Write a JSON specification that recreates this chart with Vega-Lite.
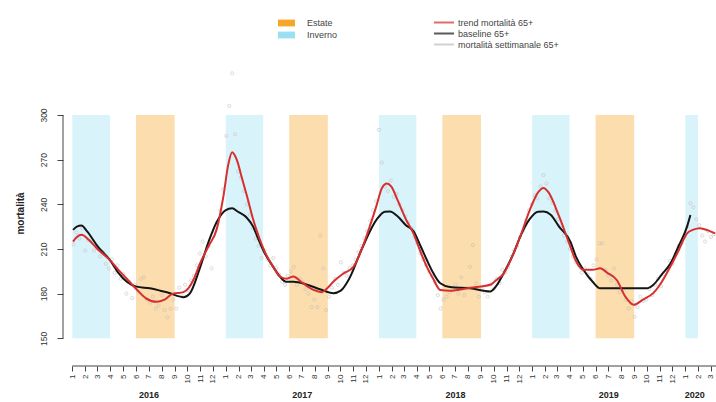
{
  "$schema": "https://vega.github.io/schema/vega-lite/v6.json",
  "width": 653,
  "height": 306,
  "autosize": "none",
  "padding": {"left": 63, "top": 60, "right": 0, "bottom": 36},
  "background": "white",
  "config": {"font": "Liberation Sans", "view": {"stroke": null}, "axis": {"grid": false}},
  "datasets": {
    "bande": [
      {"inizio": "2016-01-01", "fine": "2016-03-31", "stagione": "Inverno"},
      {"inizio": "2016-06-01", "fine": "2016-09-01", "stagione": "Estate"},
      {"inizio": "2017-01-01", "fine": "2017-03-31", "stagione": "Inverno"},
      {"inizio": "2017-06-01", "fine": "2017-09-01", "stagione": "Estate"},
      {"inizio": "2018-01-01", "fine": "2018-03-31", "stagione": "Inverno"},
      {"inizio": "2018-06-01", "fine": "2018-09-01", "stagione": "Estate"},
      {"inizio": "2019-01-01", "fine": "2019-03-31", "stagione": "Inverno"},
      {"inizio": "2019-06-01", "fine": "2019-09-01", "stagione": "Estate"},
      {"inizio": "2020-01-01", "fine": "2020-01-31", "stagione": "Inverno"}
    ],
    "trend": [
      {"d": "2016-01-03", "v": 215}, {"d": "2016-01-12", "v": 218}, {"d": "2016-01-23", "v": 219.5},
      {"d": "2016-02-10", "v": 216}, {"d": "2016-03-01", "v": 210}, {"d": "2016-03-31", "v": 202.5},
      {"d": "2016-04-20", "v": 196}, {"d": "2016-05-10", "v": 190}, {"d": "2016-06-02", "v": 183},
      {"d": "2016-06-24", "v": 177}, {"d": "2016-07-20", "v": 174.5}, {"d": "2016-08-08", "v": 176},
      {"d": "2016-08-28", "v": 180}, {"d": "2016-09-22", "v": 181}, {"d": "2016-10-05", "v": 184},
      {"d": "2016-10-17", "v": 190}, {"d": "2016-10-31", "v": 200}, {"d": "2016-11-21", "v": 212},
      {"d": "2016-12-10", "v": 223}, {"d": "2016-12-26", "v": 245}, {"d": "2017-01-07", "v": 267},
      {"d": "2017-01-16", "v": 275}, {"d": "2017-01-27", "v": 270}, {"d": "2017-02-09", "v": 257},
      {"d": "2017-02-20", "v": 246}, {"d": "2017-03-07", "v": 230}, {"d": "2017-03-16", "v": 222},
      {"d": "2017-04-04", "v": 208}, {"d": "2017-04-24", "v": 198}, {"d": "2017-05-10", "v": 191.5},
      {"d": "2017-05-25", "v": 190}, {"d": "2017-06-11", "v": 191.5}, {"d": "2017-06-29", "v": 188},
      {"d": "2017-07-29", "v": 182.5}, {"d": "2017-08-18", "v": 181}, {"d": "2017-08-30", "v": 183.5},
      {"d": "2017-09-14", "v": 188}, {"d": "2017-10-08", "v": 193.5}, {"d": "2017-11-01", "v": 198},
      {"d": "2017-11-21", "v": 210}, {"d": "2017-12-11", "v": 226}, {"d": "2017-12-27", "v": 240},
      {"d": "2018-01-08", "v": 251}, {"d": "2018-01-20", "v": 254}, {"d": "2018-01-30", "v": 252},
      {"d": "2018-02-14", "v": 243}, {"d": "2018-03-06", "v": 230}, {"d": "2018-03-24", "v": 220.5},
      {"d": "2018-04-10", "v": 208}, {"d": "2018-04-25", "v": 198}, {"d": "2018-05-10", "v": 190},
      {"d": "2018-05-27", "v": 182.5}, {"d": "2018-06-19", "v": 182}, {"d": "2018-08-06", "v": 184},
      {"d": "2018-09-23", "v": 186}, {"d": "2018-10-07", "v": 189}, {"d": "2018-10-25", "v": 193.5},
      {"d": "2018-11-16", "v": 206}, {"d": "2018-12-03", "v": 218}, {"d": "2018-12-26", "v": 236},
      {"d": "2019-01-15", "v": 248}, {"d": "2019-01-28", "v": 251}, {"d": "2019-02-09", "v": 248},
      {"d": "2019-03-06", "v": 232}, {"d": "2019-04-02", "v": 211.5}, {"d": "2019-04-15", "v": 202},
      {"d": "2019-05-03", "v": 196}, {"d": "2019-05-25", "v": 196}, {"d": "2019-06-12", "v": 197},
      {"d": "2019-06-29", "v": 194}, {"d": "2019-07-22", "v": 189}, {"d": "2019-08-11", "v": 178},
      {"d": "2019-08-31", "v": 172.5}, {"d": "2019-09-22", "v": 176}, {"d": "2019-10-17", "v": 180.5},
      {"d": "2019-11-06", "v": 188}, {"d": "2019-11-26", "v": 198}, {"d": "2019-12-16", "v": 209},
      {"d": "2020-01-05", "v": 220.5}, {"d": "2020-01-20", "v": 223}, {"d": "2020-02-05", "v": 224},
      {"d": "2020-02-24", "v": 222.5}, {"d": "2020-03-12", "v": 220.5}
    ],
    "baseline": [
      {"d": "2016-01-03", "v": 222.8}, {"d": "2016-01-12", "v": 225}, {"d": "2016-01-23", "v": 225.7},
      {"d": "2016-02-05", "v": 222}, {"d": "2016-03-01", "v": 212}, {"d": "2016-03-31", "v": 202.5},
      {"d": "2016-04-20", "v": 194}, {"d": "2016-05-10", "v": 188}, {"d": "2016-06-02", "v": 184.7},
      {"d": "2016-07-04", "v": 183.6}, {"d": "2016-07-29", "v": 182}, {"d": "2016-08-21", "v": 180.3},
      {"d": "2016-09-07", "v": 178.5}, {"d": "2016-09-22", "v": 177.6}, {"d": "2016-10-07", "v": 180},
      {"d": "2016-10-31", "v": 197}, {"d": "2016-11-21", "v": 215}, {"d": "2016-12-10", "v": 228},
      {"d": "2016-12-31", "v": 236}, {"d": "2017-01-16", "v": 237.3}, {"d": "2017-01-30", "v": 235},
      {"d": "2017-02-20", "v": 231}, {"d": "2017-03-07", "v": 225}, {"d": "2017-03-16", "v": 219},
      {"d": "2017-04-04", "v": 207}, {"d": "2017-04-24", "v": 198}, {"d": "2017-05-10", "v": 191.4},
      {"d": "2017-05-25", "v": 188}, {"d": "2017-06-11", "v": 188}, {"d": "2017-07-14", "v": 186},
      {"d": "2017-08-13", "v": 183}, {"d": "2017-09-14", "v": 180.3}, {"d": "2017-10-02", "v": 182},
      {"d": "2017-10-22", "v": 190}, {"d": "2017-11-21", "v": 210}, {"d": "2017-12-27", "v": 230},
      {"d": "2018-01-15", "v": 235}, {"d": "2018-01-27", "v": 235.1}, {"d": "2018-02-14", "v": 232},
      {"d": "2018-03-06", "v": 226}, {"d": "2018-03-24", "v": 222}, {"d": "2018-04-10", "v": 212},
      {"d": "2018-04-25", "v": 202.6}, {"d": "2018-05-10", "v": 194}, {"d": "2018-05-27", "v": 187},
      {"d": "2018-06-19", "v": 184.5}, {"d": "2018-08-06", "v": 183.6}, {"d": "2018-09-23", "v": 181.4},
      {"d": "2018-10-07", "v": 185}, {"d": "2018-10-25", "v": 193.7}, {"d": "2018-11-16", "v": 206},
      {"d": "2018-12-03", "v": 218}, {"d": "2018-12-26", "v": 230}, {"d": "2019-01-15", "v": 235},
      {"d": "2019-01-28", "v": 235.1}, {"d": "2019-02-14", "v": 233}, {"d": "2019-03-06", "v": 225},
      {"d": "2019-04-02", "v": 215}, {"d": "2019-04-15", "v": 205}, {"d": "2019-05-03", "v": 196},
      {"d": "2019-05-25", "v": 188}, {"d": "2019-06-12", "v": 183.6}, {"d": "2019-10-01", "v": 183.6},
      {"d": "2019-10-17", "v": 186}, {"d": "2019-11-06", "v": 193}, {"d": "2019-11-26", "v": 200},
      {"d": "2019-12-16", "v": 212}, {"d": "2020-01-05", "v": 225}, {"d": "2020-01-13", "v": 232.8}
    ],
    "obs": [
      {"d": "2016-01-04", "v": 213}, {"d": "2016-01-11", "v": 221}, {"d": "2016-01-18", "v": 217}, {"d": "2016-01-25", "v": 224},
      {"d": "2016-02-01", "v": 209}, {"d": "2016-02-08", "v": 216}, {"d": "2016-02-15", "v": 215}, {"d": "2016-02-22", "v": 209},
      {"d": "2016-02-29", "v": 212}, {"d": "2016-03-07", "v": 205}, {"d": "2016-03-14", "v": 208}, {"d": "2016-03-21", "v": 200},
      {"d": "2016-03-28", "v": 197}, {"d": "2016-04-04", "v": 203}, {"d": "2016-04-11", "v": 194}, {"d": "2016-04-18", "v": 199},
      {"d": "2016-04-25", "v": 190}, {"d": "2016-05-02", "v": 193}, {"d": "2016-05-09", "v": 180}, {"d": "2016-05-16", "v": 188},
      {"d": "2016-05-23", "v": 177}, {"d": "2016-05-30", "v": 186}, {"d": "2016-06-06", "v": 181}, {"d": "2016-06-13", "v": 190},
      {"d": "2016-06-20", "v": 191}, {"d": "2016-06-27", "v": 176}, {"d": "2016-07-04", "v": 174}, {"d": "2016-07-11", "v": 178},
      {"d": "2016-07-18", "v": 170}, {"d": "2016-07-25", "v": 172}, {"d": "2016-08-01", "v": 179}, {"d": "2016-08-08", "v": 169},
      {"d": "2016-08-15", "v": 164}, {"d": "2016-08-22", "v": 170}, {"d": "2016-08-29", "v": 176}, {"d": "2016-09-05", "v": 170},
      {"d": "2016-09-12", "v": 184}, {"d": "2016-09-19", "v": 178}, {"d": "2016-09-26", "v": 186}, {"d": "2016-10-03", "v": 182},
      {"d": "2016-10-10", "v": 189}, {"d": "2016-10-17", "v": 192}, {"d": "2016-10-24", "v": 199}, {"d": "2016-10-31", "v": 207},
      {"d": "2016-11-07", "v": 215}, {"d": "2016-11-14", "v": 205}, {"d": "2016-11-21", "v": 212}, {"d": "2016-11-28", "v": 197},
      {"d": "2016-12-05", "v": 222}, {"d": "2016-12-12", "v": 228}, {"d": "2016-12-19", "v": 236}, {"d": "2016-12-26", "v": 250},
      {"d": "2017-01-02", "v": 286}, {"d": "2017-01-09", "v": 306}, {"d": "2017-01-16", "v": 328}, {"d": "2017-01-23", "v": 287},
      {"d": "2017-01-30", "v": 262}, {"d": "2017-02-06", "v": 258}, {"d": "2017-02-13", "v": 249}, {"d": "2017-02-20", "v": 240},
      {"d": "2017-02-27", "v": 233}, {"d": "2017-03-06", "v": 224}, {"d": "2017-03-13", "v": 217}, {"d": "2017-03-20", "v": 212},
      {"d": "2017-03-27", "v": 204}, {"d": "2017-04-03", "v": 209}, {"d": "2017-04-10", "v": 203}, {"d": "2017-04-17", "v": 199},
      {"d": "2017-04-24", "v": 204}, {"d": "2017-05-01", "v": 197}, {"d": "2017-05-08", "v": 193}, {"d": "2017-05-15", "v": 188},
      {"d": "2017-05-22", "v": 186}, {"d": "2017-05-29", "v": 192}, {"d": "2017-06-05", "v": 195}, {"d": "2017-06-12", "v": 198},
      {"d": "2017-06-19", "v": 186}, {"d": "2017-06-26", "v": 190}, {"d": "2017-07-03", "v": 188}, {"d": "2017-07-10", "v": 183},
      {"d": "2017-07-17", "v": 180}, {"d": "2017-07-24", "v": 171}, {"d": "2017-07-31", "v": 176}, {"d": "2017-08-07", "v": 171},
      {"d": "2017-08-14", "v": 219}, {"d": "2017-08-21", "v": 197}, {"d": "2017-08-28", "v": 169}, {"d": "2017-09-04", "v": 178},
      {"d": "2017-09-11", "v": 184}, {"d": "2017-09-18", "v": 190}, {"d": "2017-09-25", "v": 186}, {"d": "2017-10-02", "v": 201},
      {"d": "2017-10-09", "v": 194}, {"d": "2017-10-16", "v": 192}, {"d": "2017-10-23", "v": 197}, {"d": "2017-10-30", "v": 199},
      {"d": "2017-11-06", "v": 203}, {"d": "2017-11-13", "v": 208}, {"d": "2017-11-20", "v": 212}, {"d": "2017-11-27", "v": 217},
      {"d": "2017-12-04", "v": 222}, {"d": "2017-12-11", "v": 229}, {"d": "2017-12-18", "v": 236}, {"d": "2017-12-25", "v": 242},
      {"d": "2018-01-01", "v": 290}, {"d": "2018-01-08", "v": 268}, {"d": "2018-01-15", "v": 252}, {"d": "2018-01-22", "v": 249},
      {"d": "2018-01-29", "v": 256}, {"d": "2018-02-05", "v": 245}, {"d": "2018-02-12", "v": 247}, {"d": "2018-02-19", "v": 240},
      {"d": "2018-02-26", "v": 236}, {"d": "2018-03-05", "v": 232}, {"d": "2018-03-12", "v": 228}, {"d": "2018-03-19", "v": 224},
      {"d": "2018-03-26", "v": 218}, {"d": "2018-04-02", "v": 214}, {"d": "2018-04-09", "v": 207}, {"d": "2018-04-16", "v": 203},
      {"d": "2018-04-23", "v": 199}, {"d": "2018-04-30", "v": 195}, {"d": "2018-05-07", "v": 192}, {"d": "2018-05-14", "v": 188},
      {"d": "2018-05-21", "v": 179}, {"d": "2018-05-28", "v": 170}, {"d": "2018-06-04", "v": 176}, {"d": "2018-06-11", "v": 178},
      {"d": "2018-06-18", "v": 181}, {"d": "2018-06-25", "v": 183}, {"d": "2018-07-02", "v": 186}, {"d": "2018-07-09", "v": 180},
      {"d": "2018-07-16", "v": 191}, {"d": "2018-07-23", "v": 179}, {"d": "2018-07-30", "v": 184}, {"d": "2018-08-06", "v": 198},
      {"d": "2018-08-13", "v": 212.7}, {"d": "2018-08-20", "v": 187}, {"d": "2018-08-27", "v": 178}, {"d": "2018-09-03", "v": 183},
      {"d": "2018-09-10", "v": 181}, {"d": "2018-09-17", "v": 178}, {"d": "2018-09-24", "v": 186}, {"d": "2018-10-01", "v": 183},
      {"d": "2018-10-08", "v": 190}, {"d": "2018-10-15", "v": 187}, {"d": "2018-10-22", "v": 196}, {"d": "2018-10-29", "v": 194},
      {"d": "2018-11-05", "v": 198}, {"d": "2018-11-12", "v": 205}, {"d": "2018-11-19", "v": 209}, {"d": "2018-11-26", "v": 212},
      {"d": "2018-12-03", "v": 218}, {"d": "2018-12-10", "v": 222}, {"d": "2018-12-17", "v": 229}, {"d": "2018-12-24", "v": 236},
      {"d": "2018-12-31", "v": 240}, {"d": "2019-01-07", "v": 246}, {"d": "2019-01-14", "v": 244}, {"d": "2019-01-21", "v": 252},
      {"d": "2019-01-28", "v": 259.7}, {"d": "2019-02-04", "v": 254}, {"d": "2019-02-11", "v": 244}, {"d": "2019-02-18", "v": 241},
      {"d": "2019-02-25", "v": 236}, {"d": "2019-03-04", "v": 230}, {"d": "2019-03-11", "v": 226}, {"d": "2019-03-18", "v": 219},
      {"d": "2019-03-25", "v": 215}, {"d": "2019-04-01", "v": 210}, {"d": "2019-04-08", "v": 205}, {"d": "2019-04-15", "v": 201},
      {"d": "2019-04-22", "v": 199}, {"d": "2019-04-29", "v": 194}, {"d": "2019-05-06", "v": 197}, {"d": "2019-05-13", "v": 193},
      {"d": "2019-05-20", "v": 190}, {"d": "2019-05-27", "v": 199}, {"d": "2019-06-03", "v": 203}, {"d": "2019-06-10", "v": 213.8},
      {"d": "2019-06-17", "v": 213.8}, {"d": "2019-06-24", "v": 196}, {"d": "2019-07-01", "v": 192}, {"d": "2019-07-08", "v": 189},
      {"d": "2019-07-15", "v": 197}, {"d": "2019-07-22", "v": 186}, {"d": "2019-07-29", "v": 181}, {"d": "2019-08-05", "v": 183},
      {"d": "2019-08-12", "v": 176}, {"d": "2019-08-19", "v": 170}, {"d": "2019-08-26", "v": 175}, {"d": "2019-09-02", "v": 164.5},
      {"d": "2019-09-09", "v": 171}, {"d": "2019-09-16", "v": 178}, {"d": "2019-09-23", "v": 175}, {"d": "2019-09-30", "v": 176},
      {"d": "2019-10-07", "v": 183}, {"d": "2019-10-14", "v": 179}, {"d": "2019-10-21", "v": 186}, {"d": "2019-10-28", "v": 190},
      {"d": "2019-11-04", "v": 185}, {"d": "2019-11-11", "v": 193}, {"d": "2019-11-18", "v": 196}, {"d": "2019-11-25", "v": 202},
      {"d": "2019-12-02", "v": 200}, {"d": "2019-12-09", "v": 207}, {"d": "2019-12-16", "v": 212}, {"d": "2019-12-23", "v": 214},
      {"d": "2019-12-30", "v": 218}, {"d": "2020-01-06", "v": 225}, {"d": "2020-01-13", "v": 240.7}, {"d": "2020-01-20", "v": 238},
      {"d": "2020-01-27", "v": 230}, {"d": "2020-02-03", "v": 226}, {"d": "2020-02-10", "v": 219}, {"d": "2020-02-17", "v": 215},
      {"d": "2020-02-24", "v": 222}, {"d": "2020-03-02", "v": 218}, {"d": "2020-03-09", "v": 220}
    ],
    "anni": [
      {"d": "2016-07-01"}, {"d": "2017-07-01"}, {"d": "2018-07-01"}, {"d": "2019-07-01"}, {"d": "2020-01-22"}
    ]
  },
  "layer": [
    {
      "data": {"name": "bande"},
      "mark": {"type": "rect", "opacity": 0.38},
      "encoding": {
        "x": {
          "field": "inizio", "type": "temporal",
          "scale": {"type": "utc", "nice": false, "domain": [{"year": 2015, "month": 12, "date": 10, "utc": true}, {"year": 2020, "month": 3, "date": 14, "utc": true}]},
          "axis": {
            "title": null, "orient": "bottom", "tickCount": {"interval": "month", "step": 1},
            "labelExpr": "utcmonth(datum.value) + 1",
            "labelAngle": 270, "labelAlign": "right", "labelBaseline": "middle",
            "labelFontSize": 8, "labelColor": "#333", "tickColor": "#444", "tickSize": 5,
            "labelPadding": 3, "domain": false, "labelOverlap": false, "labelFlush": false, "grid": false
          }
        },
        "x2": {"field": "fine"},
        "y": {
          "datum": 150, "type": "quantitative",
          "scale": {"domain": [131.4, 336.95], "nice": false, "zero": false},
          "axis": {
            "title": "mortalità", "values": [150, 180, 210, 240, 270, 300],
            "labelAngle": 270, "labelAlign": "center", "labelBaseline": "bottom",
            "labelFontSize": 8.5, "labelColor": "#333", "labelPadding": 9, "tickSize": 6, "tickColor": "#444",
            "domain": false, "grid": false, "titleFontWeight": "bold", "titleFontSize": 10, "titleColor": "#222", "titlePadding": 14
          }
        },
        "y2": {"datum": 300},
        "fill": {
          "field": "stagione", "type": "nominal",
          "scale": {"domain": ["Estate", "Inverno"], "range": ["#F6A628", "#9BE0F2"]},
          "legend": {
            "title": null, "orient": "none", "legendX": 215, "legendY": -43,
            "symbolType": "M-1,-0.4H1V0.4H-1Z", "symbolSize": 289, "symbolOpacity": 1, "symbolStrokeWidth": 0,
            "labelFontSize": 9, "labelColor": "#444", "labelOffset": 12, "clipHeight": 12, "rowPadding": 0
          }
        }
      }
    },
    {
      "data": {"name": "obs"},
      "mark": {"type": "point", "filled": false, "size": 10, "strokeWidth": 0.8},
      "encoding": {
        "x": {"field": "d", "type": "temporal", "axis": null},
        "y": {"field": "v", "type": "quantitative"},
        "stroke": {"datum": "mortalità settimanale 65+", "type": "nominal"}
      }
    },
    {
      "data": {"name": "baseline"},
      "mark": {"type": "line", "interpolate": "monotone", "strokeWidth": 2},
      "encoding": {
        "x": {"field": "d", "type": "temporal", "axis": null},
        "y": {"field": "v", "type": "quantitative"},
        "stroke": {"datum": "baseline 65+", "type": "nominal"}
      }
    },
    {
      "data": {"name": "trend"},
      "mark": {"type": "line", "interpolate": "monotone", "strokeWidth": 2},
      "encoding": {
        "x": {"field": "d", "type": "temporal", "axis": null},
        "y": {"field": "v", "type": "quantitative"},
        "stroke": {
          "datum": "trend mortalità 65+", "type": "nominal",
          "scale": {"domain": ["trend mortalità 65+", "baseline 65+", "mortalità settimanale 65+"], "range": ["#d62f2f", "#151515", "#c4bcbc"]},
          "legend": {
            "title": null, "orient": "none", "legendX": 370, "legendY": -43,
            "symbolType": "stroke", "symbolSize": 400, "symbolStrokeWidth": 2,
            "labelFontSize": 9, "labelColor": "#444", "labelOffset": 3, "clipHeight": 11, "rowPadding": 0
          }
        }
      }
    },
    {
      "data": {"name": "anni"},
      "mark": {"type": "rule", "opacity": 0},
      "encoding": {
        "x": {
          "field": "d", "type": "temporal",
          "axis": {
            "title": null, "orient": "bottom",
            "values": [
              {"year": 2016, "month": 7, "date": 1, "utc": true},
              {"year": 2017, "month": 7, "date": 1, "utc": true},
              {"year": 2018, "month": 7, "date": 1, "utc": true},
              {"year": 2019, "month": 7, "date": 1, "utc": true},
              {"year": 2020, "month": 1, "date": 22, "utc": true}
            ],
            "labelExpr": "utcyear(datum.value)", "ticks": false, "domain": false, "grid": false,
            "labelAngle": 0, "labelAlign": "center", "labelBaseline": "top",
            "labelFontSize": 9, "labelFontWeight": "bold", "labelColor": "#222", "labelPadding": 24,
            "labelOverlap": false, "labelFlush": false
          }
        }
      }
    },
    {
      "data": {"values": [{}]},
      "mark": {"type": "rule", "color": "#444", "strokeWidth": 1},
      "encoding": {
        "x": {"datum": {"year": 2015, "month": 12, "date": 10, "utc": true}, "type": "temporal", "axis": null},
        "y": {"datum": 150, "type": "quantitative"},
        "y2": {"datum": 300}
      }
    },
    {
      "data": {"values": [{}]},
      "mark": {"type": "rule", "color": "#444", "strokeWidth": 1},
      "encoding": {
        "x": {"datum": {"year": 2016, "month": 1, "date": 1, "utc": true}, "type": "temporal", "axis": null},
        "x2": {"datum": {"year": 2020, "month": 3, "date": 14, "utc": true}},
        "y": {"datum": 131.4, "type": "quantitative"}
      }
    }
  ],
  "resolve": {"axis": {"x": "independent"}}
}
